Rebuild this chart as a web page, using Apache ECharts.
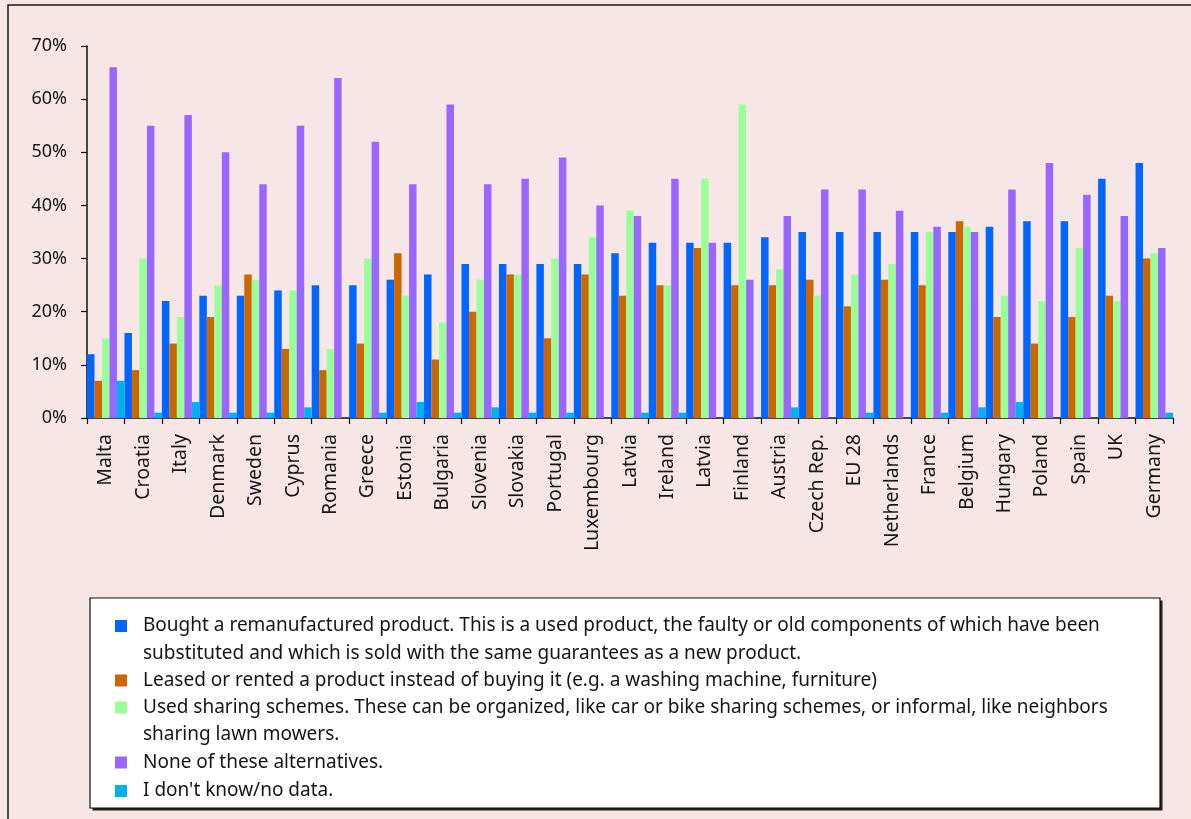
<!DOCTYPE html>
<html>
<head>
<meta charset="utf-8">
<script src="https://cdn.jsdelivr.net/npm/echarts@6/dist/echarts.min.js"></script>
<style>
  html, body { margin: 0; padding: 0; background: #f6e6e6; }
  #chart { width: 1191px; height: 819px; }
</style>
</head>
<body>
<div id="chart"></div>
<script>
// Survey: share of respondents per country who took part in each alternative (%)
const countries = ['Malta', 'Croatia', 'Italy', 'Denmark', 'Sweden', 'Cyprus', 'Romania', 'Greece',
  'Estonia', 'Bulgaria', 'Slovenia', 'Slovakia', 'Portugal', 'Luxembourg', 'Latvia', 'Ireland',
  'Latvia', 'Finland', 'Austria', 'Czech Rep.', 'EU 28', 'Netherlands', 'France', 'Belgium',
  'Hungary', 'Poland', 'Spain', 'UK', 'Germany'];

const remanufactured = [12, 16, 22, 23, 23, 24, 25, 25, 26, 27, 29, 29, 29, 29, 31, 33, 33, 33, 34, 35, 35, 35, 35, 35, 36, 37, 37, 45, 48];
const leased         = [7, 9, 14, 19, 27, 13, 9, 14, 31, 11, 20, 27, 15, 27, 23, 25, 32, 25, 25, 26, 21, 26, 25, 37, 19, 14, 19, 23, 30];
const sharing        = [15, 30, 19, 25, 26, 24, 13, 30, 23, 18, 26, 27, 30, 34, 39, 25, 45, 59, 28, 23, 27, 29, 35, 36, 23, 22, 32, 22, 31];
const noneOfThese    = [66, 55, 57, 50, 44, 55, 64, 52, 44, 59, 44, 45, 49, 40, 38, 45, 33, 26, 38, 43, 43, 39, 36, 35, 43, 48, 42, 38, 32];
const dontKnow       = [7, 1, 3, 1, 1, 2, 0, 1, 3, 1, 2, 1, 1, 0, 1, 1, 0, 0, 2, 0, 1, 0, 1, 2, 3, 0, 0, 0, 1];

const seriesNames = [
  'Bought a remanufactured product. This is a used product, the faulty or old components of which have been\nsubstituted and which is sold with the same guarantees as a new product.',
  'Leased or rented a product instead of buying it (e.g. a washing machine, furniture)',
  'Used sharing schemes. These can be organized, like car or bike sharing schemes, or informal, like neighbors\nsharing lawn mowers.',
  'None of these alternatives.',
  "I don't know/no data."
];
const seriesValues = [remanufactured, leased, sharing, noneOfThese, dontKnow];
const seriesColors = ['#0066ff', '#cc6600', '#99ff99', '#9966ff', '#00b0f0'];

const yTickValues = [0, 10, 20, 30, 40, 50, 60, 70];

const FONT = '"Noto Sans", "Open Sans", sans-serif';
const TEXT = '#151515';
const LINE_H = 27.5;

// vertical centres of the legend rows
const legendRows = [626, 680.5, 707.5, 762.5, 791];

// Each entry gets its own legend so the swatch sits beside the first line of
// a wrapped description; a leading blank line keeps the block centred there.
const legends = seriesNames.map((name, i) => {
  const twoLine = name.indexOf('\n') >= 0;
  return {
    data: [name],
    orient: 'vertical',
    left: 115,
    top: legendRows[i] - (twoLine ? LINE_H * 1.5 : LINE_H / 2),
    padding: 0,
    itemWidth: 34,
    itemHeight: 12,
    icon: 'path://M0 0H10V10H0Z',
    symbolKeepAspect: true,
    selectedMode: false,
    itemStyle: { borderWidth: 0 },
    formatter: n => (twoLine ? '\n' + n : n),
    textStyle: {
      fontFamily: FONT,
      fontSize: 19,
      color: TEXT,
      lineHeight: LINE_H,
      backgroundColor: 'transparent'
    }
  };
});

const chart = echarts.init(document.getElementById('chart'), null, { renderer: 'canvas' });

chart.setOption({
  backgroundColor: '#f6e6e6',
  animation: false,
  graphic: [
    {
      type: 'rect', z: -10, silent: true,
      shape: { x: 8, y: 5, width: 1300, height: 900 },
      style: { fill: 'none', stroke: '#1a1a1a', lineWidth: 1.5 }
    },
    {
      type: 'rect', z: -5, silent: true,
      shape: { x: 92.5, y: 600.5, width: 1070, height: 210 },
      style: { fill: '#222', stroke: null }
    },
    {
      type: 'rect', z: -4, silent: true,
      shape: { x: 90, y: 598, width: 1070, height: 210 },
      style: { fill: '#ffffff', stroke: '#111', lineWidth: 1.2 }
    }
  ],
  legend: legends,
  grid: { left: 87, right: 18, top: 46, bottom: 401, containLabel: false },
  xAxis: {
    type: 'category',
    data: countries,
    axisLine: { show: true, lineStyle: { color: '#111', width: 1.5 } },
    axisTick: { show: true, length: 6, interval: 0, lineStyle: { color: '#111', width: 1.2 } },
    axisLabel: {
      interval: 0, rotate: 90, margin: 16,
      fontFamily: FONT, fontSize: 19.5, color: TEXT
    },
    splitLine: { show: false }
  },
  yAxis: {
    type: 'value',
    min: yTickValues[0],
    max: yTickValues[yTickValues.length - 1],
    interval: yTickValues[1] - yTickValues[0],
    axisLine: { show: true, lineStyle: { color: '#111', width: 1.5 } },
    axisTick: { show: true, length: 6, lineStyle: { color: '#111', width: 1.2 } },
    axisLabel: {
      margin: 20, fontFamily: FONT, fontSize: 18, color: TEXT,
      formatter: v => v + '%'
    },
    splitLine: { show: false }
  },
  series: seriesNames.map((name, i) => ({
    name: name,
    type: 'bar',
    data: seriesValues[i],
    barGap: '0%',
    barCategoryGap: '0%',
    itemStyle: { color: seriesColors[i] }
  }))
});
</script>
</body>
</html>
